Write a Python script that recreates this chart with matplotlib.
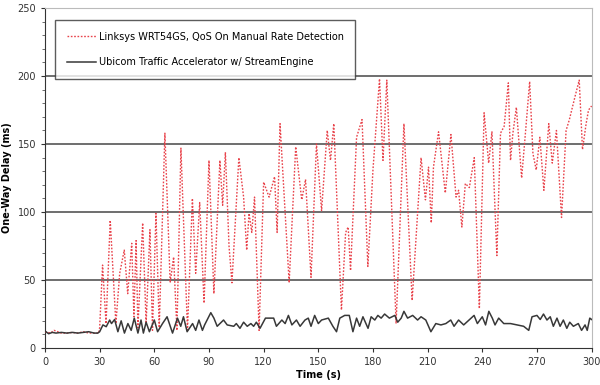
import matplotlib
matplotlib.use("Agg")
import matplotlib.pyplot as plt
from matplotlib.ticker import MultipleLocator

# red series: Linksys WRT54GS (time s, delay ms) vertices
linksys_t = [0, 3, 5, 7, 9, 12, 15, 18, 21, 24, 27, 29.5, 30, 31.6, 33.5, 35.8, 38.9,
             41, 43.5, 45.4, 47.6, 48.8, 50, 51, 53.6, 55.5, 57.6, 59, 60.9, 62.7,
             65.8, 68.7, 70.6, 72.4, 74.6, 78.2, 80.9, 82.7, 84.9, 87.3, 90, 92.7,
             96, 97.5, 99, 101, 102.6, 106.4, 109, 110.7, 112, 113.5, 115, 117.5,
             120, 123, 126, 127.4, 129, 134, 137.6, 140.9, 143, 146, 149, 151.8,
             154.9, 156.7, 158.5, 162.7, 165, 166.4, 167.7, 169, 171, 174, 177.2,
             180, 183.6, 185.5, 187.6, 192.7, 197, 201.5, 206.4, 208.8, 210.5, 212,
             213.2, 216, 219.7, 222.8, 225.6, 227, 228.8, 230.7, 232.9, 235.6, 238.4,
             241, 243.5, 245.3, 248, 250, 252, 254.3, 255.5, 256.8, 258.7, 261.6,
             263.8, 266, 267.8, 269.6, 271.6, 273.8, 276.5, 278.4, 280.7, 283.5, 286,
             287.8, 291.1, 293.2, 295, 297, 298.3, 300]
linksys_v = [12, 11, 13, 12, 11, 11, 11.5, 11, 12, 11, 11, 11, 15, 61, 18, 94, 18,
             55, 72, 40, 77, 23, 79, 15, 92, 18, 87, 13, 99, 15,
             158, 48, 67, 13, 147, 13, 110, 55, 107, 33, 138, 40,
             138, 105, 144, 75, 48, 140, 111, 72, 99, 85, 111, 13,
             122, 111, 126, 85, 165, 48, 148, 109, 124, 52, 150, 101,
             160, 138, 165, 28, 85, 89, 57, 96, 155, 168, 60,
             131, 198, 138, 197, 18, 165, 35, 140, 109, 133, 92,
             133, 159, 114, 157, 111, 116, 89, 121, 118, 140, 29,
             173, 136, 159, 68, 158, 163, 195, 138, 158, 177, 125,
             160, 196, 143, 131, 155, 116, 165, 136, 160, 96, 160,
             168, 186, 197, 146, 165, 175, 178]

# black series: Ubicom StreamEngine
ubicom_t = [0, 2, 4, 6, 9, 12, 15, 18, 21, 24, 27, 29, 30, 31.8, 33.6, 35.5, 36.5,
            38.2, 40, 41.8, 43.6, 45.5, 47.3, 49, 51, 52.7, 54, 55.5, 57.3, 60, 61.8,
            64.5, 67, 70, 72.7, 74.5, 76, 78, 81, 82.7, 84.5, 86.4, 87.6, 91, 92.7,
            94.5, 98, 100, 103.6, 105, 107, 109, 111, 113, 114.5, 116, 118, 121, 125.5,
            127, 130, 131.8, 133.6, 135.5, 138, 140, 142.7, 144.5, 146, 148, 150,
            151.8, 155.5, 158, 160, 161.8, 164.5, 167, 169, 171, 172.7, 174.5, 177.3,
            179, 181, 182.7, 184.5, 186.4, 189, 192, 193.6, 195.5, 197, 199, 201.8,
            204.5, 206.4, 209, 211.8, 214.5, 217.3, 220, 222.7, 224.5, 227, 229.8,
            232.7, 235.5, 237.3, 240, 241.8, 243.6, 245.5, 247, 249, 251.8, 255.5,
            259, 262.7, 265.5, 267.3, 270, 271.8, 273.6, 275.5, 277.3, 279, 281,
            282.7, 284.5, 286.4, 288, 290, 292.7, 294.5, 296.4, 297.6, 299, 300]
ubicom_v = [12.5, 10.5, 11.5, 11, 11.5, 11, 11.5, 11, 11.5, 12, 11, 11, 12, 17, 15.7,
            20.6, 18, 21, 12, 20, 11, 18, 13, 22, 11, 20.6, 11, 19, 12, 20.6, 12,
            18, 23, 11, 22, 16, 23, 12, 18, 13, 20.6, 13, 17, 26, 22,
            16, 20.6, 17, 16, 18, 14.5, 19, 16, 18, 16, 19, 14.5, 22, 22,
            16, 20.6, 18, 24, 17, 20.6, 16, 20.6, 22, 16, 24, 18,
            20.6, 22, 16, 12, 22, 24, 24, 12, 22, 16, 23, 14.5,
            23, 20.6, 24, 22, 25, 22, 24, 19, 22, 27, 22, 24,
            20.6, 23, 20.6, 12, 18, 17, 18, 20.6, 16, 20.6, 17,
            20.6, 24, 18, 23, 17, 27, 22, 17, 22, 18, 18,
            17, 16, 13, 23, 24, 21, 25, 20.6, 23, 16, 22,
            16, 20.6, 14.5, 19, 16, 18, 13, 17, 13, 22, 21]

x_ticks = list(range(0, 301, 30))
y_ticks = list(range(0, 251, 50))

fig = plt.figure(figsize=(6, 3.85), dpi=100)
ax = fig.add_axes([0.075, 0.096, 0.911, 0.883])

for y in y_ticks[1:-1]:
    ax.axhline(y, color="#6e6e6e", lw=1.4, zorder=1)

ax.plot(linksys_t, linksys_v, color="#e8424a", lw=1, ls=(0, (1.2, 1.2)),
        label="Linksys WRT54GS, QoS On Manual Rate Detection", zorder=3)
ax.plot(ubicom_t, ubicom_v, color="#383838", lw=1.1,
        label="Ubicom Traffic Accelerator w/ StreamEngine", zorder=4)

ax.set_xlim(0, 300)
ax.set_ylim(0, 250)
ax.set_xticks(x_ticks)
ax.set_yticks(y_ticks)
ax.yaxis.set_minor_locator(MultipleLocator(10))
ax.tick_params(axis="both", labelsize=7, colors="#333333", length=3, width=0.8)
ax.tick_params(axis="y", which="minor", length=2, width=0.6, colors="#555555")

ax.spines["left"].set_color("#333333")
ax.spines["bottom"].set_color("#333333")
ax.spines["top"].set_color("#bbbbbb")
ax.spines["right"].set_color("#bbbbbb")

ax.set_xlabel("Time (s)", fontsize=7, fontweight="bold", labelpad=2)
ax.set_ylabel("One-Way Delay (ms)", fontsize=7, fontweight="bold", labelpad=4)

leg = ax.legend(loc="upper left", bbox_to_anchor=(0.018, 0.965), borderaxespad=0,
                fontsize=7, frameon=True, fancybox=False, labelspacing=1.6,
                handlelength=3.0, borderpad=1.2, handletextpad=0.3)
leg.get_frame().set_edgecolor("#333333")
leg.get_frame().set_linewidth(1.0)
leg.set_zorder(5)

fig.savefig("out.png", dpi=100)
